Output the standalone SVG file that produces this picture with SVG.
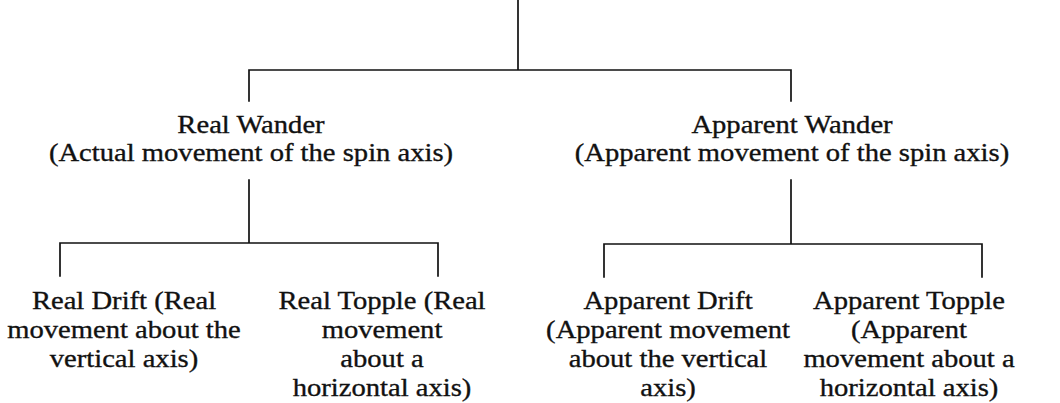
<svg xmlns="http://www.w3.org/2000/svg" width="1060" height="403" viewBox="0 0 1060 403">
<style>
  .ln { stroke: #111; stroke-width: 1.7; fill: none; stroke-linecap: square; }
  text { font-family: "Liberation Serif", "Times New Roman", serif; font-size: 26px; fill: #111; stroke: #111; stroke-width: 0.35; text-anchor: middle; }
</style>
<rect width="1060" height="403" fill="#fff"/>
<g id="connectors">
  <path class="ln" d="M518 0 V70 M249 70 H791 M249 70 V101 M791 70 V101"/>
  <path class="ln" d="M249 180 V243 M60 243 H438 M60 243 V276 M438 243 V276"/>
  <path class="ln" d="M791 180 V244 M604 244 H982 M604 244 V277 M982 244 V277"/>
</g>
<g id="real-wander" transform="translate(251 0) scale(1.1 1)">
  <text x="0" y="133">Real Wander</text>
  <text x="0" y="161">(Actual movement of the spin axis)</text>
</g>
<g id="apparent-wander" transform="translate(792 0) scale(1.1 1)">
  <text x="0" y="133">Apparent Wander</text>
  <text x="0" y="161">(Apparent movement of the spin axis)</text>
</g>
<g id="real-drift" transform="translate(124 0) scale(1.1 1)">
  <text x="0" y="309">Real Drift (Real</text>
  <text x="0" y="338">movement about the</text>
  <text x="0" y="367">vertical axis)</text>
</g>
<g id="real-topple" transform="translate(382 0) scale(1.1 1)">
  <text x="0" y="309">Real Topple (Real</text>
  <text x="0" y="338">movement</text>
  <text x="0" y="367">about a</text>
  <text x="0" y="396">horizontal axis)</text>
</g>
<g id="apparent-drift" transform="translate(668 0) scale(1.1 1)">
  <text x="0" y="309">Apparent Drift</text>
  <text x="0" y="338">(Apparent movement</text>
  <text x="0" y="367">about the vertical</text>
  <text x="0" y="396">axis)</text>
</g>
<g id="apparent-topple" transform="translate(909 0) scale(1.1 1)">
  <text x="0" y="309">Apparent Topple</text>
  <text x="0" y="338">(Apparent</text>
  <text x="0" y="367">movement about a</text>
  <text x="0" y="396">horizontal axis)</text>
</g>
</svg>
